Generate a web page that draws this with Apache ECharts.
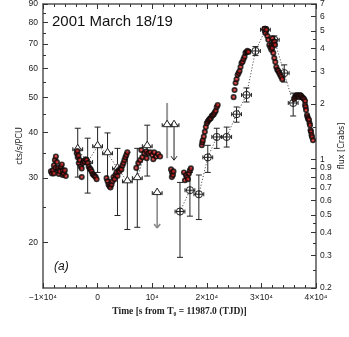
<!DOCTYPE html>
<html>
<head>
<meta charset="utf-8">
<script src="https://cdn.jsdelivr.net/npm/echarts@6/dist/echarts.min.js"></script>
<style>
  html, body { margin: 0; padding: 0; background: #fff; }
  #chart { width: 349px; height: 337px; }
</style>
</head>
<body>
<div id="chart"></div>
<script>
// PCA light curve, [time s, cts/s/PCU]
const pca1 = [[-8550, 31.3], [-8360, 30.9], [-8180, 31.5], [-8000, 32.5], [-8000, 30.9], [-7820, 33.6], [-7700, 32.0], [-7640, 34.4],
  [-7450, 33.2], [-7270, 31.9], [-7100, 31.5], [-7090, 30.8], [-6910, 31.3], [-6730, 32.3], [-6550, 32.7], [-6400, 30.6],
  [-6360, 31.5], [-6180, 30.9], [-6000, 31.5], [-5820, 30.4]];
const pca2 = [[-3820, 35.1], [-3700, 35.6], [-3640, 34.2], [-3500, 34.6], [-3450, 33.0], [-3270, 33.6], [-3090, 32.3], [-2910, 31.9],
  [-2910, 30.2], [-2730, 33.0], [-2550, 33.4], [-2360, 33.2], [-2180, 33.8], [-2000, 33.6], [-1820, 33.0], [-1640, 32.3],
  [-1450, 31.9], [-1270, 31.7], [-1090, 31.3], [-910, 30.8], [-730, 30.6], [-550, 30.4], [-360, 30.2], [-180, 29.8]];
const pca3 = [[1640, 30.0], [1820, 29.4], [2000, 28.8], [2180, 28.5], [2360, 28.3], [2550, 28.8], [2730, 29.4], [2910, 30.2],
  [3090, 29.8], [3270, 30.6], [3450, 31.1], [3640, 30.4], [3820, 31.5], [4000, 31.3], [4180, 31.9], [4360, 31.7],
  [4550, 32.5], [4730, 33.0], [4910, 33.6], [5090, 34.2], [5270, 34.7], [5450, 35.3]];
const pca4 = [[7090, 32.0], [7450, 33.0], [7820, 33.6], [8000, 35.8], [8180, 34.2], [8550, 35.1], [8910, 35.5], [9000, 34.0],
  [9270, 35.1], [9640, 35.3], [10000, 34.7], [10200, 33.8], [10360, 35.3], [10730, 34.4], [11090, 34.9], [11450, 34.4]];
const pca5 = [[13450, 31.7], [13600, 30.2], [13630, 31.1], [13800, 30.6], [13900, 31.3],
  [15820, 31.1], [16000, 29.6], [16180, 30.6], [16360, 30.2], [16550, 29.8], [16730, 30.9], [16910, 31.5], [17090, 31.9]];
const pcaRise1 = [[19090, 36.9], [19180, 37.6], [19270, 38.1], [19450, 39.0], [19640, 40.2], [19820, 41.4], [20000, 42.4],
  [20180, 42.9], [20360, 43.3], [20550, 43.6], [20730, 43.8], [20910, 44.4], [21090, 44.6], [21270, 44.9], [21450, 45.4],
  [21640, 45.9], [21820, 47.0], [22000, 47.6]];
const pcaRise2 = [[24910, 50.0], [25090, 52.3], [25270, 54.7], [25450, 56.0], [25640, 57.5], [25820, 58.2], [26000, 59.0],
  [26180, 60.5], [26360, 62.0], [26550, 62.5], [26730, 63.6], [26910, 64.5], [27090, 66.1], [27270, 66.5], [27450, 67.0], [27640, 66.5]];
const pcaPeak = [[30550, 77.0], [30730, 75.0], [30910, 76.5], [31090, 73.5], [31270, 71.8], [31450, 69.5], [31640, 68.5],
  [31820, 67.4], [31900, 69.5], [32000, 72.5], [32000, 68.2], [32180, 66.1], [32200, 70.0], [32360, 71.0], [32360, 64.0],
  [32500, 69.5], [32550, 62.4], [32730, 60.5], [32910, 59.4], [33090, 59.0], [33270, 58.2], [33450, 57.5], [33640, 56.8], [33820, 56.0]];
const pcaDecay = [[36000, 49.4], [36180, 50.0], [36360, 50.4], [36550, 50.7], [36730, 50.4], [36910, 50.0], [37090, 50.7],
  [37270, 50.4], [37450, 50.0], [37640, 49.7], [37820, 49.4], [38000, 48.8], [38000, 47.6], [38100, 47.0], [38180, 46.1],
  [38360, 44.7], [38450, 44.1], [38550, 43.6], [38730, 43.3], [38820, 42.4], [38910, 41.9], [39000, 40.6], [39090, 40.2],
  [39180, 39.4], [39270, 38.9], [39450, 38.1]];

// binned points, [time, rate, low, high]
const triangles = [[-3640, 36.0, 30.2, 41.1], [-1820, 33.2, 27.3, 38.6], [0, 36.7, 31.1, 41.4], [1820, 35.1, 29.6, 39.9],
  [3640, 31.9, 23.7, 36.2], [5450, 29.4, 21.7, 35.3], [7270, 30.0, 22.0, 36.2], [9090, 36.7, 30.4, 41.9]];
const circles = [[15090, 24.3, 18.2, 29.2], [16910, 27.8, 23.6, 31.1], [18545, 27.1, 23.1, 30.6], [20180, 34.2, 31.1, 36.9],
  [21820, 38.9, 36.2, 41.1], [23640, 38.9, 36.5, 41.4], [25450, 44.9, 42.7, 47.0], [27270, 50.7, 48.5, 53.0],
  [28910, 66.9, 65.0, 68.8], [30730, 76.5, 75.0, 77.9], [32360, 71.8, 70.0, 73.6], [34180, 58.2, 55.0, 61.3],
  [35820, 48.2, 44.4, 51.3]];
// upper limits, [time, rate, arrow end, grey?]
const upperLimits = [[10910, 27.3, 21.9, 1], [14000, 41.9, 33.6, 0]];
const greyBars = [[12730, 41.9, 34.0, 48.2]];

const timeTicks = [-10000, 0, 10000, 20000, 30000, 40000];
const timeLabels = ['−1×10⁴', '0', '10⁴', '2×10⁴', '3×10⁴', '4×10⁴'];
const rateTicks = [20, 30, 40, 50, 60, 70, 80, 90];
const rateMinor = [25, 35, 45, 55, 65, 75, 85];
const fluxTicks = [0.2, 0.3, 0.4, 0.5, 0.6, 0.7, 0.8, 0.9, 1, 2, 3, 4, 5, 6, 7];
const fluxMinor = [0.25, 0.35, 0.45, 1.5, 2.5, 3.5, 4.5];

const XERR = 900;
const lg = v => Math.log10(v);
const font = 'Liberation Sans';

const seg = (x1, y1, x2, y2, style) => ({ type: 'line', shape: { x1, y1, x2, y2 }, style });

const marker = (kind, x, y) => kind === 'tri'
  ? { type: 'polygon', shape: { points: [[x, y - 5], [x - 4, y + 1.5], [x + 4, y + 1.5]] }, style: { fill: '#fff', stroke: '#222', lineWidth: 1 } }
  : { type: 'circle', shape: { cx: x, cy: y, r: 3.6 }, style: { fill: 'none', stroke: '#222', lineWidth: 1 } };

const hbar = (api, t, r, st) => {
  const l = api.coord([t - XERR, r]), rr = api.coord([t + XERR, r]);
  return [seg(l[0], l[1], rr[0], rr[1], st), seg(l[0], l[1] - 2, l[0], l[1] + 2, st), seg(rr[0], rr[1] - 2, rr[0], rr[1] + 2, st)];
};

const renderErr = kind => (params, api) => {
  const t = api.value(0), r = api.value(1);
  const c = api.coord([t, r]);
  const lo = api.coord([t, api.value(2)]), hi = api.coord([t, api.value(3)]);
  const st = { stroke: '#222', lineWidth: 1 };
  const kids = [seg(c[0], hi[1], c[0], lo[1], st),
    seg(c[0] - 3, hi[1], c[0] + 3, hi[1], st), seg(c[0] - 3, lo[1], c[0] + 3, lo[1], st)]
    .concat(hbar(api, t, r, st));
  kids.push(marker(kind, c[0], c[1]));
  if (kind === 'circ') kids.push(seg(c[0], c[1] - 3.6, c[0], c[1] + 3.6, st));
  return { type: 'group', children: kids };
};

const renderLimit = (params, api) => {
  const t = api.value(0), r = api.value(1);
  const c = api.coord([t, r]), e = api.coord([t, api.value(2)]);
  const st = api.value(3) ? { stroke: '#8a8a8a', lineWidth: 1.6 } : { stroke: '#222', lineWidth: 1 };
  const kids = [seg(c[0], c[1], e[0], e[1], st), seg(e[0] - 3, e[1] - 4, e[0], e[1], st), seg(e[0] + 3, e[1] - 4, e[0], e[1], st)]
    .concat(hbar(api, t, r, { stroke: '#222', lineWidth: 1 }));
  kids.push(marker('tri', c[0], c[1]));
  return { type: 'group', children: kids };
};

const renderGrey = (params, api) => {
  const t = api.value(0), r = api.value(1);
  const c = api.coord([t, r]);
  const lo = api.coord([t, api.value(2)]), hi = api.coord([t, api.value(3)]);
  const kids = [seg(c[0], hi[1], c[0], lo[1], { stroke: '#999', lineWidth: 2 })]
    .concat(hbar(api, t, r, { stroke: '#222', lineWidth: 1 }));
  kids.push(marker('tri', c[0], c[1]));
  return { type: 'group', children: kids };
};

const pcaAll = [].concat(pca1, pca2, pca3, pca4, pca5, pcaRise1, pcaRise2, pcaPeak, pcaDecay);
const binLine = triangles.map(d => [d[0], d[1]]).concat([[12000, null]], circles.map(d => [d[0], d[1]]));

const axisLine = { show: true, onZero: false, lineStyle: { color: '#555', width: 1.5 } };
const noLine = { show: false, onZero: false };
const tickLabel = { fontFamily: font, fontSize: 8.5, color: '#222' };

const chart = echarts.init(document.getElementById('chart'));
chart.setOption({
  animation: false,
  backgroundColor: '#fff',
  title: {
    text: '2001 March 18/19', left: 47, top: 9,
    textStyle: { fontFamily: font, fontSize: 15, fontWeight: 'normal', color: '#111' }
  },
  graphic: [{
    type: 'text', left: 54, top: 261,
    style: { text: '(a)', fontFamily: font, fontSize: 12, fontStyle: 'italic', fill: '#111' }
  }],
  grid: { left: 43, top: 4, width: 273, height: 284, containLabel: false, outerBoundsMode: 'none' },
  xAxis: [{
    type: 'value', position: 'bottom', min: -10000, max: 40000, interval: 10000,
    axisLine, splitLine: { show: false },
    axisTick: { inside: true, length: 5, lineStyle: { color: '#333' } },
    minorTick: { show: true, splitNumber: 5, length: 3, lineStyle: { color: '#333' } },
    axisLabel: Object.assign({ margin: 5, formatter: v => timeLabels[timeTicks.indexOf(v)] }, tickLabel),
    name: 'Time [s from T\u2080 = 11987.0 (TJD)]', nameLocation: 'middle', nameGap: 16,
    nameTextStyle: { fontFamily: 'Liberation Serif', fontWeight: 'bold', fontSize: 9.5, color: '#222' }
  }, {
    type: 'value', position: 'top', min: -10000, max: 40000, interval: 10000,
    axisLine, splitLine: { show: false }, axisLabel: { show: false },
    axisTick: { inside: true, length: 5, lineStyle: { color: '#333' } },
    minorTick: { show: true, splitNumber: 5, length: 3, lineStyle: { color: '#333' } }
  }],
  yAxis: [{
    type: 'log', min: 15, max: 90, show: false, position: 'left', axisLine: noLine
  }, {
    type: 'value', position: 'left', min: lg(15), max: lg(90),
    axisLine, splitLine: { show: false },
    axisTick: { inside: true, length: 5, customValues: rateTicks.map(lg), lineStyle: { color: '#333' } },
    axisLabel: Object.assign({ margin: 5, customValues: rateTicks.map(lg), formatter: v => String(Math.round(Math.pow(10, v))) }, tickLabel),
    name: 'cts/s/PCU', nameLocation: 'middle', nameRotate: 90, nameGap: 19, nameMoveOverlap: false,
    nameTextStyle: { fontFamily: 'DejaVu Sans', fontSize: 8, color: '#222' }
  }, {
    type: 'value', position: 'left', min: lg(15), max: lg(90),
    axisLine: noLine, splitLine: { show: false }, axisLabel: { show: false },
    axisTick: { inside: true, length: 3, customValues: rateMinor.map(lg), lineStyle: { color: '#333' } }
  }, {
    type: 'value', position: 'right', min: lg(0.2), max: lg(7),
    axisLine, splitLine: { show: false },
    axisTick: { inside: true, length: 5, customValues: fluxTicks.map(lg), lineStyle: { color: '#333' } },
    axisLabel: Object.assign({ margin: 4, customValues: fluxTicks.map(lg), formatter: v => String(parseFloat(Math.pow(10, v).toPrecision(1))) }, tickLabel),
    name: 'flux [Crabs]', nameLocation: 'middle', nameRotate: 90, nameGap: 22, nameMoveOverlap: false,
    nameTextStyle: { fontFamily: 'DejaVu Sans', fontSize: 8, color: '#222' }
  }, {
    type: 'value', position: 'right', min: lg(0.2), max: lg(7),
    axisLine: noLine, splitLine: { show: false }, axisLabel: { show: false },
    axisTick: { inside: true, length: 3, customValues: fluxMinor.map(lg), lineStyle: { color: '#333' } }
  }],
  series: [{
    type: 'line', yAxisIndex: 0, data: binLine, symbol: 'none', connectNulls: false, z: 1,
    lineStyle: { color: '#555', width: 1, type: [1.2, 1.8] }
  }, {
    type: 'custom', yAxisIndex: 0, data: triangles, renderItem: renderErr('tri'), encode: { x: 0, y: 1 }, z: 2
  }, {
    type: 'custom', yAxisIndex: 0, data: circles, renderItem: renderErr('circ'), encode: { x: 0, y: 1 }, z: 2
  }, {
    type: 'custom', yAxisIndex: 0, data: upperLimits, renderItem: renderLimit, encode: { x: 0, y: 1 }, z: 2
  }, {
    type: 'custom', yAxisIndex: 0, data: greyBars, renderItem: renderGrey, encode: { x: 0, y: 1 }, z: 2
  }, {
    type: 'scatter', yAxisIndex: 0, data: pcaAll, symbol: 'circle', symbolSize: 4.4, z: 3,
    itemStyle: { color: '#d42020', borderColor: '#0a0a0a', borderWidth: 1.7 }
  }]
});
</script>
</body>
</html>
